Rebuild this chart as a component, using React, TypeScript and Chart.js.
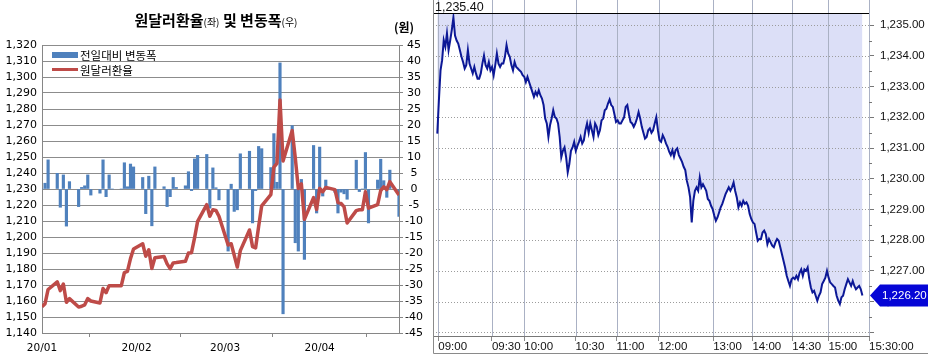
import React, { useEffect, useRef } from 'react';
import { Chart, registerables } from 'chart.js';

Chart.register(...registerables);

// ---------- Left chart data (daily) ----------
const dailyDates = [
  '2020-01-01', '2020-01-02', '2020-01-03', '2020-01-06', '2020-01-07', '2020-01-08', '2020-01-09', '2020-01-10',
  '2020-01-13', '2020-01-14', '2020-01-15', '2020-01-16', '2020-01-17', '2020-01-20', '2020-01-21', '2020-01-22',
  '2020-01-23', '2020-01-24', '2020-01-27', '2020-01-28', '2020-01-29', '2020-01-30', '2020-01-31',
  '2020-02-03', '2020-02-04', '2020-02-05', '2020-02-06', '2020-02-07', '2020-02-10', '2020-02-11', '2020-02-12',
  '2020-02-13', '2020-02-14', '2020-02-17', '2020-02-18', '2020-02-19', '2020-02-20', '2020-02-21',
  '2020-02-24', '2020-02-25', '2020-02-26', '2020-02-27', '2020-02-28',
  '2020-03-02', '2020-03-03', '2020-03-04', '2020-03-05', '2020-03-06', '2020-03-09', '2020-03-10', '2020-03-11',
  '2020-03-12', '2020-03-13', '2020-03-16', '2020-03-17', '2020-03-18', '2020-03-19', '2020-03-20',
  '2020-03-23', '2020-03-24', '2020-03-25', '2020-03-26', '2020-03-27', '2020-03-30', '2020-03-31',
  '2020-04-01', '2020-04-02', '2020-04-03', '2020-04-06', '2020-04-07', '2020-04-08', '2020-04-09', '2020-04-10',
  '2020-04-13', '2020-04-14', '2020-04-15', '2020-04-16', '2020-04-17', '2020-04-20', '2020-04-21', '2020-04-22',
  '2020-04-23', '2020-04-24', '2020-04-27',
];

const usdKrw = [
  1156.4, 1158.3, 1167.2, 1172.0, 1166.5, 1170.6, 1159.2, 1161.5,
  1156.2, 1156.7, 1157.6, 1161.5, 1160.0, 1158.8, 1167.8, 1165.2,
  1169.6, 1169.6, 1169.6, 1177.8, 1178.5, 1186.5, 1192.5,
  1195.8, 1188.0, 1192.0, 1180.3, 1187.0, 1187.8, 1183.2, 1180.2,
  1183.8, 1184.0, 1184.8, 1190.0, 1190.2, 1199.4, 1209.8,
  1220.2, 1213.0, 1217.0, 1216.6, 1213.0,
  1195.0, 1195.8, 1188.6, 1181.2, 1191.5, 1204.4, 1194.0, 1193.2,
  1206.5, 1219.5, 1226.5, 1243.7, 1246.0, 1285.7, 1247.5,
  1266.5, 1249.6, 1230.3, 1233.2, 1211.0, 1224.6, 1217.2,
  1230.4, 1228.3, 1231.0, 1229.6, 1221.5, 1221.0, 1218.8, 1208.8,
  1216.5, 1217.0, 1217.0, 1228.3, 1218.0, 1220.3, 1229.0, 1231.4,
  1229.6, 1234.6, 1226.2,
];

const dailyChange = [
  0, 1.8, 9.1, 4.9, -5.7, 4.4, -11.6, 2.3,
  -5.5, 0.5, 1.0, 4.4, -1.9, -1.3, 9.1, -2.4,
  4.4, 0, 0, 8.2, 0.7, 7.8, 6.9,
  3.6, -7.7, 4.0, -11.5, 6.9, 0.7, -5.5, -2.4,
  3.6, 0.5, 1.0, 5.4, -0.5, 9.4, 10.5,
  10.8, -6.0, 6.6, 0.4, -3.4,
  -19.4, 1.5, -7.0, -6.5, 11.0, 11.8, -10.6, -0.5,
  13.3, 12.6, 6.7, 17.3, 2.1, 39.4, -39.0,
  19.8, -16.8, -19.4, 3.0, -22.0, 13.6, -7.5,
  13.1, -2.2, 2.8, -1.0, -7.5, -1.0, -1.5, -3.2,
  9.0, -0.8, 0, 11.4, -10.6, 2.8, 9.3, 2.6,
  -2.6, 5.9, -8.6,
];

const monthTickDates = ['2020-01-01', '2020-02-01', '2020-03-01', '2020-04-01'];
const monthTickLabels = ['20/01', '20/02', '20/03', '20/04'];

// ---------- Right chart data (intraday) ----------
const intraday = [
  1231.47, 1232.56, 1233.53, 1233.86, 1234.51, 1234.30, 1234.73, 1234.19, 1234.50, 1234.84,
  1235.25, 1234.66, 1234.50, 1234.40, 1234.19, 1233.97, 1233.80, 1233.59, 1233.70, 1234.19,
  1233.75, 1233.59, 1233.43, 1233.64, 1233.43, 1233.26, 1233.26, 1233.43, 1233.75, 1234.01,
  1233.70, 1233.59, 1233.80, 1233.53, 1233.64, 1233.37, 1233.70, 1234.08, 1233.75, 1233.64,
  1233.75, 1233.75, 1233.97, 1234.35, 1234.08, 1233.97, 1233.70, 1233.53, 1233.80, 1233.64,
  1233.59, 1233.53, 1233.48, 1233.37, 1233.32, 1233.15, 1233.32, 1233.15, 1232.99, 1232.83,
  1232.67, 1232.83, 1232.72, 1232.88, 1232.72, 1232.61, 1232.40, 1231.96, 1231.80, 1231.36,
  1231.74, 1231.96, 1232.23, 1232.01, 1231.96, 1231.80, 1231.36, 1230.70, 1230.91, 1231.02,
  1230.70, 1230.21, 1230.48, 1230.91, 1231.02, 1231.20, 1230.91, 1231.07, 1231.20, 1231.36,
  1231.15, 1231.25,
  1231.58, 1231.80, 1231.50, 1231.80, 1231.58, 1231.36, 1231.80, 1231.69, 1231.42, 1231.58,
  1231.90, 1231.96, 1232.23, 1232.28, 1232.45, 1232.58, 1232.40, 1232.34, 1232.10, 1231.85,
  1231.90, 1231.80, 1231.80, 1231.90, 1232.00, 1232.34, 1232.40, 1232.10, 1231.85, 1231.80,
  1231.69, 1231.80, 1231.96, 1232.17, 1231.96, 1231.69, 1231.50, 1231.31, 1231.36, 1231.58,
  1231.64, 1231.50, 1231.58, 1231.80, 1232.00, 1231.58, 1231.25, 1231.20, 1231.42, 1231.31,
  1231.15, 1231.04, 1230.88, 1230.77, 1230.93, 1230.72, 1230.93, 1230.99, 1230.77, 1230.66,
  1230.55, 1230.39, 1230.28, 1229.93, 1229.72, 1229.40, 1228.58, 1229.28, 1229.61, 1229.72,
  1229.61, 1230.04, 1229.72, 1229.82, 1229.72, 1229.61, 1229.34, 1229.28, 1229.12, 1229.01,
  1228.80, 1228.63, 1228.74, 1228.90, 1229.07, 1229.18, 1229.34, 1229.50, 1229.61, 1229.72,
  1229.61,
  1229.72, 1229.88, 1229.60, 1229.39, 1229.07, 1229.23, 1229.12, 1229.28, 1229.18, 1229.23,
  1229.12, 1228.85, 1228.69, 1228.58, 1228.53, 1228.25, 1227.98, 1228.04, 1228.04, 1228.25,
  1228.31, 1228.20, 1227.87, 1228.04, 1227.93, 1227.82, 1227.77, 1227.93, 1228.04, 1227.98,
  1227.77, 1227.55, 1227.33, 1227.11, 1226.84, 1226.67, 1226.51, 1226.73, 1226.78, 1226.73,
  1226.84, 1226.73, 1226.94, 1227.05, 1226.84, 1227.05, 1227.00, 1227.11, 1226.73, 1226.46,
  1226.30, 1226.35, 1226.19, 1226.03, 1226.19, 1226.30, 1226.57, 1226.67, 1226.78, 1227.00,
  1226.78, 1226.62, 1226.57, 1226.51, 1226.46, 1226.19, 1226.03, 1225.92, 1226.14, 1226.19,
  1226.40, 1226.57, 1226.73, 1226.62, 1226.51, 1226.67, 1226.51, 1226.40, 1226.46, 1226.51,
  1226.40, 1226.20,
];

const timeTickIdx = [0.6, 33.9, 54.0, 85.9, 111.3, 137.4, 171.3, 195.7, 220.5, 242.9, 268.1];
const timeTickLabels = ['09:00', '09:30', '10:00', '10:30', '11:00', '12:00', '13:00', '14:00', '14:30', '15:00', '15:30:00'];
const priceTicks = [1225, 1226, 1227, 1228, 1229, 1230, 1231, 1232, 1233, 1234, 1235];
const priceLabelMin = 1226;
const dayHigh = 1235.4;
const axisLow = 1224.88;
const idxStart = -2.67;

const KR = '"Noto Sans CJK KR", "Noto Sans", sans-serif';
const NUM = '"DejaVu Sans", sans-serif';
const NARROW = '"Liberation Sans", Arial, sans-serif';

const dayOf = (s: string) =>
  (Date.UTC(+s.slice(0, 4), +s.slice(5, 7) - 1, +s.slice(8, 10)) - Date.UTC(2020, 0, 1)) / 86400000;
const comma = (n: number | string) => String(n).replace(/\B(?=(\d{3})+(?!\d))/g, ',');
const fmtPrice = (v: number) => {
  const [i, d] = v.toFixed(2).split('.');
  return comma(i) + '.' + d;
};

const BAR_COLOR = '#4f81bd';
const LINE_COLOR = '#be4b48';

const legendPlugin = {
  id: 'leftLegend',
  afterDraw(chart: any) {
    const c = chart.ctx;
    const a = chart.chartArea;
    const ds = chart.data.datasets;
    const bar = ds.find((d: any) => d.type === 'bar');
    const line = ds.find((d: any) => d.type === 'line');
    c.save();
    const x0 = a.left + 10;
    c.fillStyle = bar.backgroundColor;
    c.fillRect(x0, a.top + 7, 26, 6);
    c.strokeStyle = line.borderColor;
    c.lineWidth = 3;
    c.beginPath();
    c.moveTo(x0, a.top + 24.5);
    c.lineTo(x0 + 26, a.top + 24.5);
    c.stroke();
    c.fillStyle = '#000';
    c.font = '11.5px ' + KR;
    c.textBaseline = 'middle';
    c.fillText(bar.label, x0 + 28, a.top + 11);
    c.fillText(line.label, x0 + 28, a.top + 26);
    c.restore();
  },
};

const intradayPlugin = {
  id: 'intradayDecor',
  beforeDatasetsDraw(chart: any) {
    const c = chart.ctx;
    const a = chart.chartArea;
    const { x, y } = chart.scales;
    c.save();
    c.lineWidth = 1;
    c.strokeStyle = '#9c9c9c';
    c.setLineDash([1, 2]);
    priceTicks.forEach((v) => {
      const py = Math.round(y.getPixelForValue(v)) + 0.5;
      c.beginPath();
      c.moveTo(a.left, py);
      c.lineTo(a.right, py);
      c.stroke();
    });
    c.setLineDash([]);
    c.strokeStyle = '#aab1c4';
    timeTickIdx.forEach((t) => {
      const px = Math.round(x.getPixelForValue(t)) + 0.5;
      c.beginPath();
      c.moveTo(px, 0);
      c.lineTo(px, a.bottom);
      c.stroke();
    });
    c.restore();
  },
  afterDraw(chart: any) {
    const c = chart.ctx;
    const a = chart.chartArea;
    const { y } = chart.scales;
    const W = chart.width;
    c.save();
    // top (day high) line
    c.strokeStyle = '#000';
    c.lineWidth = 1;
    const ty = Math.round(y.getPixelForValue(dayHigh)) + 0.5;
    c.beginPath();
    c.moveTo(a.left, ty);
    c.lineTo(a.right, ty);
    c.stroke();
    c.fillStyle = '#111';
    c.font = '12.5px ' + NARROW;
    c.textBaseline = 'alphabetic';
    c.textAlign = 'left';
    c.fillText(fmtPrice(dayHigh), a.left + 2, ty - 3);
    // frame
    c.strokeStyle = '#8a8a8a';
    c.beginPath();
    c.moveTo(a.left + 0.5, 0);
    c.lineTo(a.left + 0.5, 353.5);
    c.lineTo(W, 353.5);
    c.stroke();
    // minor ticks on price axis
    c.strokeStyle = '#777';
    for (let i = 0; i < priceTicks.length; i++) {
      const py = Math.round(y.getPixelForValue(priceTicks[i] - 0.5)) + 0.5;
      if (py > a.bottom || py < a.top) continue;
      c.beginPath();
      c.moveTo(a.right, py);
      c.lineTo(a.right + 3, py);
      c.stroke();
    }
    // last price tag
    const last = intraday[intraday.length - 1];
    const py = y.getPixelForValue(last);
    c.fillStyle = '#0505d6';
    c.beginPath();
    c.moveTo(a.right + 1, py);
    c.lineTo(a.right + 11, py - 11);
    c.lineTo(W, py - 11);
    c.lineTo(W, py + 11);
    c.lineTo(a.right + 11, py + 11);
    c.closePath();
    c.fill();
    c.fillStyle = '#fff';
    c.font = '11.5px ' + NARROW;
    c.textBaseline = 'middle';
    c.fillText(fmtPrice(last), a.right + 13, py + 0.5);
    c.restore();
  },
};

export default function App() {
  const leftRef = useRef<HTMLCanvasElement>(null);
  const rightRef = useRef<HTMLCanvasElement>(null);

  useEffect(() => {
    const days = dailyDates.map(dayOf);
    const left = new Chart(leftRef.current as HTMLCanvasElement, {
      type: 'bar',
      data: {
        datasets: [
          {
            type: 'line',
            label: '원달러환율',
            data: days.map((d, i) => ({ x: d, y: usdKrw[i] })),
            yAxisID: 'y',
            borderColor: LINE_COLOR,
            backgroundColor: LINE_COLOR,
            borderWidth: 3.5,
            pointRadius: 0,
            tension: 0,
            fill: false,
            borderJoinStyle: 'round',
            order: 0,
          } as any,
          {
            type: 'bar',
            label: '전일대비 변동폭',
            data: days.map((d, i) => ({ x: d, y: dailyChange[i] })),
            yAxisID: 'y2',
            backgroundColor: BAR_COLOR,
            barThickness: 2.5,
            order: 1,
          } as any,
        ],
      },
      options: {
        animation: false,
        responsive: false,
        maintainAspectRatio: false,
        layout: { padding: { top: 45, left: 0, right: 0, bottom: 0 } },
        plugins: { legend: { display: false }, tooltip: { enabled: false } },
        scales: {
          x: {
            type: 'linear',
            min: 0,
            max: days[days.length - 1],
            offset: false,
            afterBuildTicks: (s: any) => {
              s.ticks = monthTickDates.map((d) => ({ value: dayOf(d) }));
            },
            ticks: {
              callback: (_v: any, i: number) => monthTickLabels[i],
              font: { family: NUM, size: 10.5 },
              color: '#000',
              maxRotation: 0,
              autoSkip: false,
              padding: 5,
            },
            grid: { drawOnChartArea: false, drawTicks: true, tickLength: 4, color: '#868686' },
            border: { color: '#868686' },
            afterFit: (s: any) => {
              s.height = 22;
            },
          } as any,
          y: {
            position: 'left',
            min: 1140,
            max: 1320,
            ticks: {
              stepSize: 10,
              autoSkip: false,
              callback: (v: any) => comma(v),
              font: { family: NUM, size: 11 },
              color: '#000',
              padding: 5,
            },
            grid: { color: '#8c8c8c', drawTicks: false },
            border: { color: '#868686' },
            afterFit: (s: any) => {
              s.width = 42;
            },
          } as any,
          y2: {
            position: 'right',
            min: -45,
            max: 45,
            ticks: {
              stepSize: 5,
              autoSkip: false,
              crossAlign: 'center',
              font: { family: NUM, size: 11 },
              color: '#000',
              padding: 2,
            },
            grid: { drawOnChartArea: false, drawTicks: true, tickLength: 4, color: '#868686' },
            border: { color: '#868686' },
            afterFit: (s: any) => {
              s.width = 31;
            },
          } as any,
        },
      },
      plugins: [legendPlugin],
    });

    const right = new Chart(rightRef.current as HTMLCanvasElement, {
      type: 'line',
      data: {
        datasets: [
          {
            label: '원달러 장중',
            data: intraday.map((v, i) => ({ x: i, y: v })),
            borderColor: '#0c1896',
            borderWidth: 2,
            pointRadius: 0,
            tension: 0,
            fill: 'end',
            backgroundColor: '#dcdff7',
          } as any,
        ],
      },
      options: {
        animation: false,
        responsive: false,
        maintainAspectRatio: false,
        layout: { padding: { left: 3, top: 12, right: 0, bottom: 0 } },
        plugins: {
          legend: { display: false },
          tooltip: { enabled: false },
          filler: { drawTime: 'beforeDatasetsDraw' },
        } as any,
        scales: {
          x: {
            type: 'linear',
            min: idxStart,
            max: timeTickIdx[timeTickIdx.length - 1],
            afterBuildTicks: (s: any) => {
              s.ticks = timeTickIdx.map((v) => ({ value: v }));
            },
            ticks: {
              callback: (_v: any, i: number) => timeTickLabels[i],
              align: 'start',
              font: { family: NARROW, size: 11.5 },
              color: '#111',
              maxRotation: 0,
              autoSkip: false,
              padding: -1,
            },
            grid: { drawOnChartArea: false, drawTicks: true, tickLength: 5, color: '#8a8a8a' },
            border: { color: '#777' },
            afterFit: (s: any) => {
              s.height = 19;
            },
          } as any,
          y: {
            position: 'right',
            min: axisLow,
            max: dayHigh,
            afterBuildTicks: (s: any) => {
              s.ticks = priceTicks.map((v) => ({ value: v }));
            },
            ticks: {
              callback: (v: any) => (v >= priceLabelMin ? fmtPrice(v) : ''),
              font: { family: NARROW, size: 11.5 },
              color: '#111',
              padding: 6,
              autoSkip: false,
            },
            grid: { drawOnChartArea: false, drawTicks: true, tickLength: 5, color: '#777' },
            border: { color: '#777' },
            afterFit: (s: any) => {
              s.width = 59;
            },
          } as any,
        },
      },
      plugins: [intradayPlugin],
    });

    return () => {
      left.destroy();
      right.destroy();
    };
  }, []);

  return (
    <div style={{ position: 'fixed', left: 0, top: 0, width: 928, height: 355, background: '#fff', overflow: 'hidden' }}>
      <canvas ref={leftRef} width={430} height={355} style={{ position: 'absolute', left: 0, top: 0, width: 430, height: 355 }} />
      <canvas ref={rightRef} width={498} height={355} style={{ position: 'absolute', left: 430, top: 0, width: 498, height: 355 }} />
      <div
        style={{
          position: 'absolute',
          left: 0,
          top: 10,
          width: 432,
          textAlign: 'center',
          fontFamily: KR,
          fontWeight: 700,
          fontSize: 15,
          lineHeight: '20px',
          color: '#000',
          whiteSpace: 'nowrap',
        }}
      >
        원달러환율<span style={{ fontSize: 10, fontWeight: 400 }}>(좌)</span> 및 변동폭<span style={{ fontSize: 10, fontWeight: 400 }}>(우)</span>
      </div>
      <div
        style={{
          position: 'absolute',
          left: 394,
          top: 17,
          fontFamily: KR,
          fontWeight: 700,
          fontSize: 12,
          lineHeight: '20px',
          color: '#000',
          whiteSpace: 'nowrap',
        }}
      >
        (원)
      </div>
    </div>
  );
}
